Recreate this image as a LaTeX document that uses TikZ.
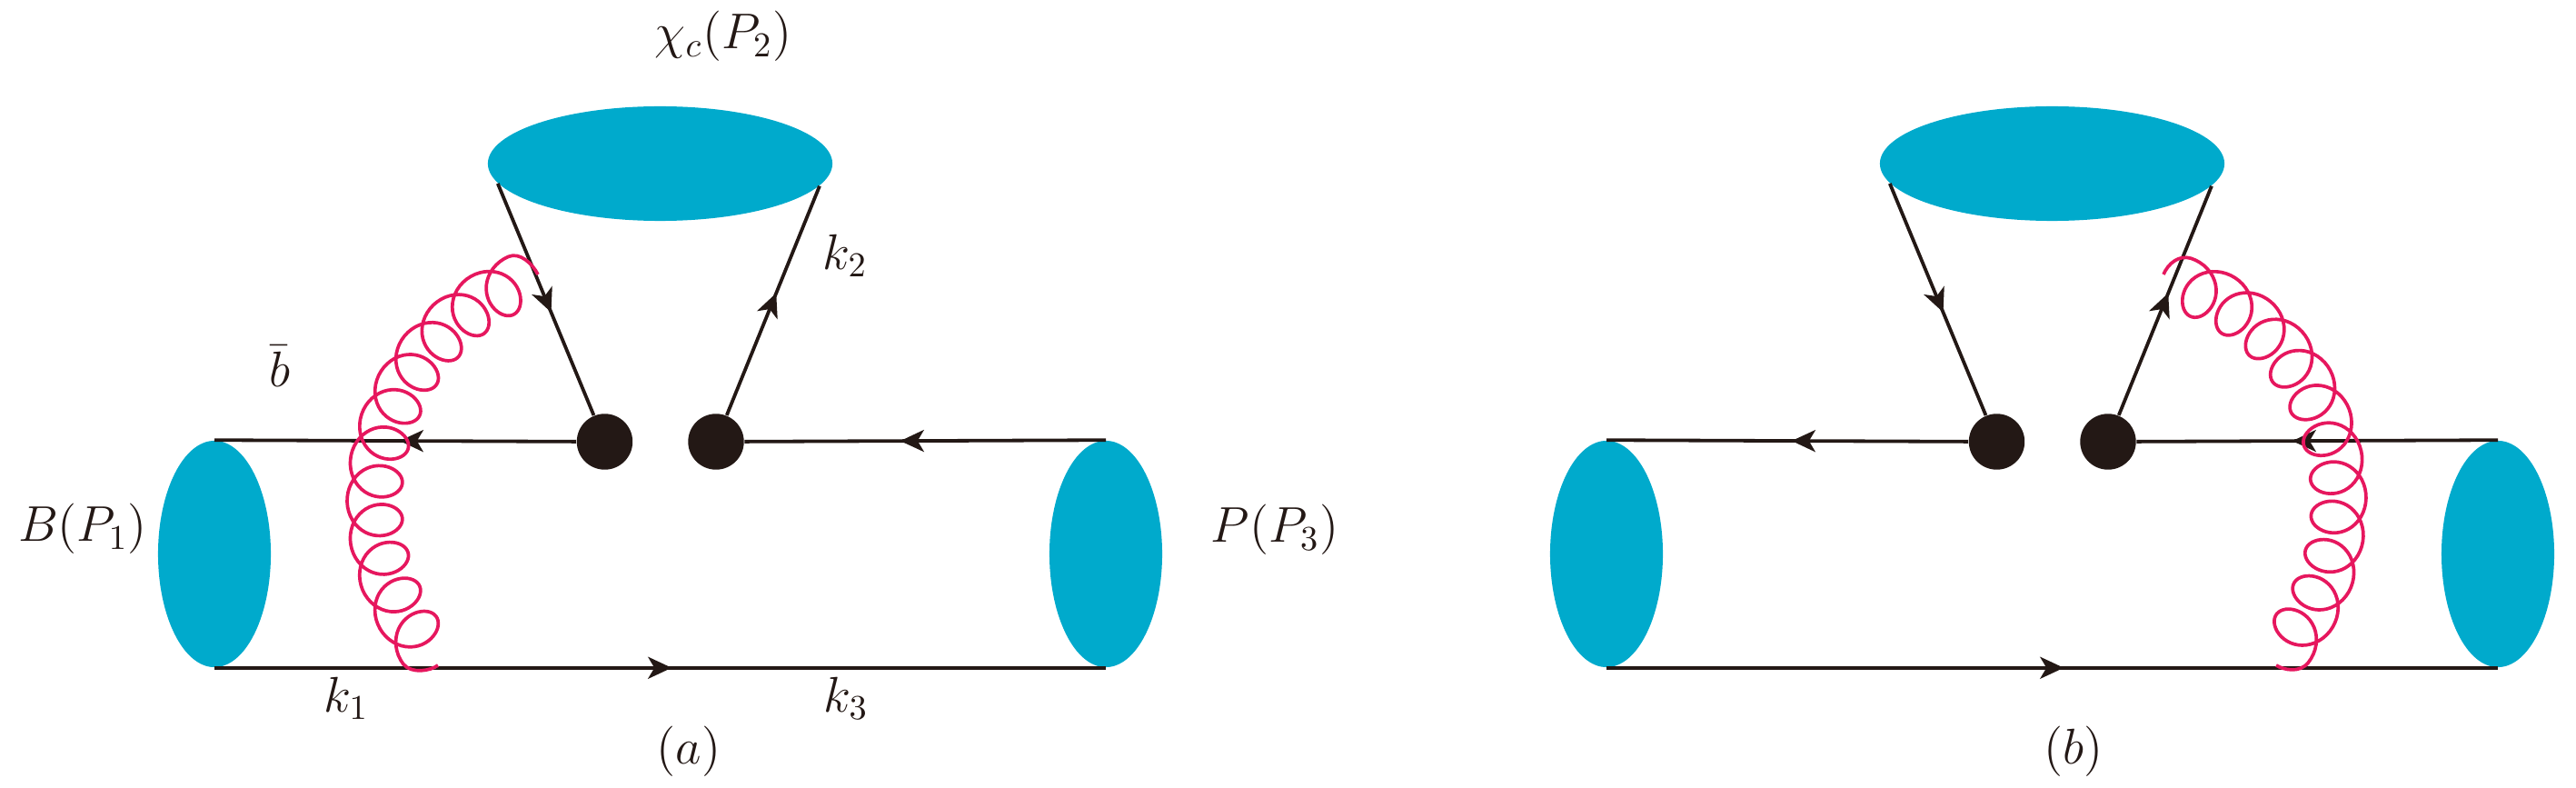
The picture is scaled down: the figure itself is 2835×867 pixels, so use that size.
\documentclass[tikz,border=0pt]{standalone}
\usepackage{tikz}
\usetikzlibrary{shapes.geometric,arrows.meta,decorations.markings}
\definecolor{blobblue}{HTML}{00AACC}
\definecolor{inkblack}{HTML}{231815}
\definecolor{gluonred}{HTML}{E6175E}

\begin{document}
\begin{tikzpicture}[
x=0.01cm, y=-0.01cm,
declare function={gr(\t)=-30*cos(360*\t); gs(\t)=\t-0.634*sin(360*\t);},
meson/.style={ellipse, fill=blobblue, inner sep=0pt, minimum width=1.24cm, minimum height=2.49cm},
mesontop/.style={ellipse, fill=blobblue, inner sep=0pt, minimum width=3.79cm, minimum height=1.26cm},
vertex/.style={circle, fill=inkblack, inner sep=0pt, minimum size=0.614cm},
label/.style={inner sep=0pt, text=inkblack, font=\Large, scale=1.09, transform shape},
quark/.style={
	draw=inkblack, line width=0.038cm,
	decoration={markings, mark=at position #1 with {\arrow{Stealth[length=0.26cm,width=0.24cm,inset=0.07cm]}}},
	postaction={decorate}
},
gluon/.style={draw=gluonred, line width=0.037cm, line join=round}
]
\useasboundingbox (0,0) rectangle (2835,867);
\foreach \p/\dx/\lx in {a/0/758,b/1532/750}
{
	\begin{scope}[xshift=\dx*0.01cm]
	\node[meson] (B\p) at (236,609.5) {};
	\node[meson] (F\p) at (1217,609.5) {};
	\node[mesontop] (chi\p) at (726.5,180) {};
	\node[vertex] (L\p) at (665.5,486) {};
	\node[vertex] (R\p) at (788,486) {};
	\draw[quark=0.488] (L\p) -- (B\p.north);
	\draw[quark=0.569] (F\p.north) -- (R\p);
	\draw[quark=0.513] (B\p.south) -- (F\p.south);
	\draw[quark=0.556] (chi\p.187.5) -- (L\p);
	\draw[quark=0.533] (R\p) -- (chi\p.352.5);
	\node[label] (cap\p) at (\lx,827) {$(\p)$};
	\end{scope}
}
% gluons
\coordinate (gas) at (592,302);
\coordinate (gae) at (482,732);
\coordinate (gbs) at (2381,302);
\coordinate (gbe) at (2505,732);
\draw[gluon] (gas) .. controls (586,290) and (572,277) .. (559.4,282.4)
	-- plot[domain=0.5:11.5, samples=500, variable=\t] ({674+(262+gr(\t))*cos(117.9+9.55*(gs(\t)-1))}, {551-(262+gr(\t))*sin(117.9+9.55*(gs(\t)-1))})
	.. controls (453,742) and (474,738) .. (gae);
\draw[gluon] (gbs) .. controls (2386,290) and (2398,280) .. (2411.5,284.3)
	-- plot[domain=0.5:11.5, samples=500, variable=\t] ({2323+(251+gr(\t))*cos(66.6-10.11*(gs(\t)-1))}, {551-(251+gr(\t))*sin(66.6-10.11*(gs(\t)-1))})
	.. controls (2531,741) and (2513,737) .. (gbe);
% labels
\node[label] (chilabel) at (796,40) {$\chi_c(P_2)$};
\node[label] (blabel) at (307.5,403) {$\bar{b}$};
\node[label] (k2) at (930,281) {$k_2$};
\node[label] (k1) at (381,768) {$k_1$};
\node[label] (k3) at (931,768) {$k_3$};
\node[label] (Blabel) at (91,582) {$B(P_1)$};
\node[label] (Plabel) at (1403,583) {$P(P_3)$};
\end{tikzpicture}
\end{document}
